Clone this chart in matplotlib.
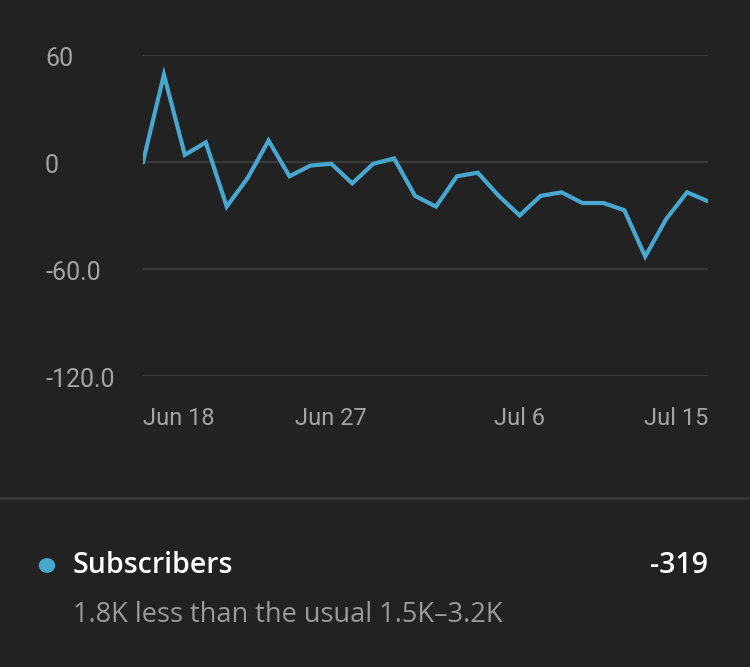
import matplotlib
matplotlib.use('Agg')
import matplotlib.pyplot as plt
import matplotlib.transforms as mtransforms
import matplotlib.dates as mdates
from matplotlib.patches import Circle
import pandas as pd

plt.rcParams['font.family'] = ['Roboto', 'DejaVu Sans']

# daily subscriber change, Jun 18 - Jul 15
dates = pd.date_range('2023-06-18', periods=28, freq='D')
subscribers = [0, 49, 4, 11, -25, -9, 12, -8, -2, -1, -12, -1, 2, -19,
               -25, -8, -6, -19, -30, -19, -17, -23, -23, -27, -53, -32, -17, -22]

y_ticks = [60, 0, -60, -120]
y_labels = ['60', '0', '-60.0', '-120.0']
x_tick_dates = pd.to_datetime(['2023-06-18', '2023-06-27', '2023-07-06', '2023-07-15'])
x_labels = ['Jun 18', 'Jun 27', 'Jul 6', 'Jul 15']

total = '-319'
series_name = 'Subscribers'
note = '1.8K less than the usual 1.5K\u20133.2K'

bg = '#222222'
grid_col = '#3a3a3a'
line_col = '#47a7cf'
label_col = '#a3a3a3'

W, H = 750, 667
fig = plt.figure(figsize=(W / 100, H / 100), dpi=100, facecolor=bg)
ax = fig.add_axes([143 / W, (H - 376) / H, 565 / W, 321 / H])
ax.set_facecolor(bg)

for v in y_ticks:
    ax.axhline(v, color=grid_col, lw=1.6, zorder=1)

ax.plot(dates, subscribers, color=line_col, lw=3.0, solid_joinstyle='miter', zorder=3)

ax.set_xlim(dates[0], dates[-1])
ax.set_ylim(-120, 60)
ax.set_xticks([])
ax.set_yticks([])
for s in ax.spines.values():
    s.set_visible(False)

# y labels, left aligned at fixed x, baseline a bit below the grid line
ytr = mtransforms.blended_transform_factory(fig.transFigure, ax.transData)
ytr = mtransforms.offset_copy(ytr, fig=fig, y=-11, units='dots')
for v, lab in zip(y_ticks, y_labels):
    ax.text(45 / W, v, lab, transform=ytr, ha='left', va='baseline',
            color=label_col, fontsize=18, clip_on=False)

# x labels, first left aligned and last right aligned
xtr = mtransforms.blended_transform_factory(ax.transData, fig.transFigure)
for i, (d, lab) in enumerate(zip(x_tick_dates, x_labels)):
    ha = 'left' if i == 0 else ('right' if i == len(x_labels) - 1 else 'center')
    ax.text(mdates.date2num(d), (H - 425) / H, lab, transform=xtr, ha=ha, va='baseline',
            color=label_col, fontsize=17, clip_on=False)

# separator
fig.add_artist(plt.Line2D([0, 1], [(H - 498) / H, (H - 498) / H],
                          transform=fig.transFigure, color=grid_col, lw=1.8))

# legend row
fig.add_artist(Circle((47 / W, (H - 565.5) / H), 7.5 / W, transform=fig.transFigure,
                      color=line_col))
fig.text(73 / W, (H - 573) / H, series_name, ha='left', va='baseline',
         color='white', fontsize=20.5, fontweight='semibold', family=['Open Sans', 'DejaVu Sans'])
fig.text(708 / W, (H - 573) / H, total, ha='right', va='baseline',
         color='white', fontsize=20.5, fontweight='semibold', family=['Open Sans', 'DejaVu Sans'])
fig.text(73 / W, (H - 622) / H, note, ha='left', va='baseline',
         color='#9a9a9a', fontsize=19.5, family=['Open Sans', 'DejaVu Sans'])

fig.savefig('out.png', dpi=100, facecolor=bg)
